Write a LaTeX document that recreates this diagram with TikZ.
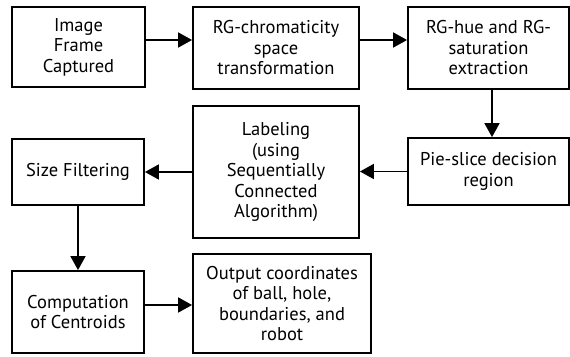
\documentclass[tikz,border=0pt]{standalone}
\usepackage{fontspec}
\setmainfont{PT Sans}
\usepackage{tikz}
\usetikzlibrary{arrows.meta,calc}

\begin{document}
\begin{tikzpicture}[x=1pt,y=1pt,
    stage/.style={draw, line width=1.8pt, align=center, inner sep=0pt,
      font=\fontsize{18.5}{20.5}\selectfont},
    flow/.style={line width=1.8pt, -{Triangle[length=14pt,width=15pt]}}]
    \useasboundingbox (0,0) rectangle (570,-356);
    %% top row
    \node[stage, minimum width=133, minimum height=80] (frame) at (78.5,-47)
      {Image\\Frame\\Captured};
    \node[stage, minimum width=166, minimum height=82] (chroma) at (276,-48)
      {RG-chromaticity\\space\\transformation};
    \node[stage, minimum width=161, minimum height=82] (huesat) at (488.5,-48)
      {RG-hue and RG-\\saturation\\extraction};
    %% middle row
    \node[stage, minimum width=161, minimum height=67] (pie) at (488.5,-171.5)
      {Pie-slice decision\\region};
    \node[stage, minimum width=166, minimum height=132] (label) at (276,-172)
      {Labeling\\(using\\Sequentially\\Connected\\Algorithm)};
    \node[stage, minimum width=132, minimum height=66] (size) at (78,-172)
      {Size Filtering};
    %% bottom row
    \node[stage, minimum width=132, minimum height=82] (centroid) at (78,-312)
      {Computation\\of Centroids};
    \node[stage, minimum width=178, minimum height=99] (output) at (282,-303.5)
      {Output coordinates\\of ball, hole,\\boundaries, and\\robot};
    %%
    \draw[flow] ([yshift=7]frame.east) -- ([yshift=7]frame.east -| chroma.west);
    \draw[flow] ([yshift=8]chroma.east) -- ([yshift=8]chroma.east -| huesat.west);
    \draw[flow] ([xshift=3.5]huesat.south) -- ([xshift=3.5]pie.north);
    \draw[flow] (pie.west) -- (pie.west -| label.east);
    \draw[flow] (label.west) -- (label.west -| size.east);
    \draw[flow] (size.south) -- (centroid.north);
    \draw[flow] ([yshift=7]centroid.east) -- ([yshift=7]centroid.east -| output.west);
\end{tikzpicture}
\end{document}
